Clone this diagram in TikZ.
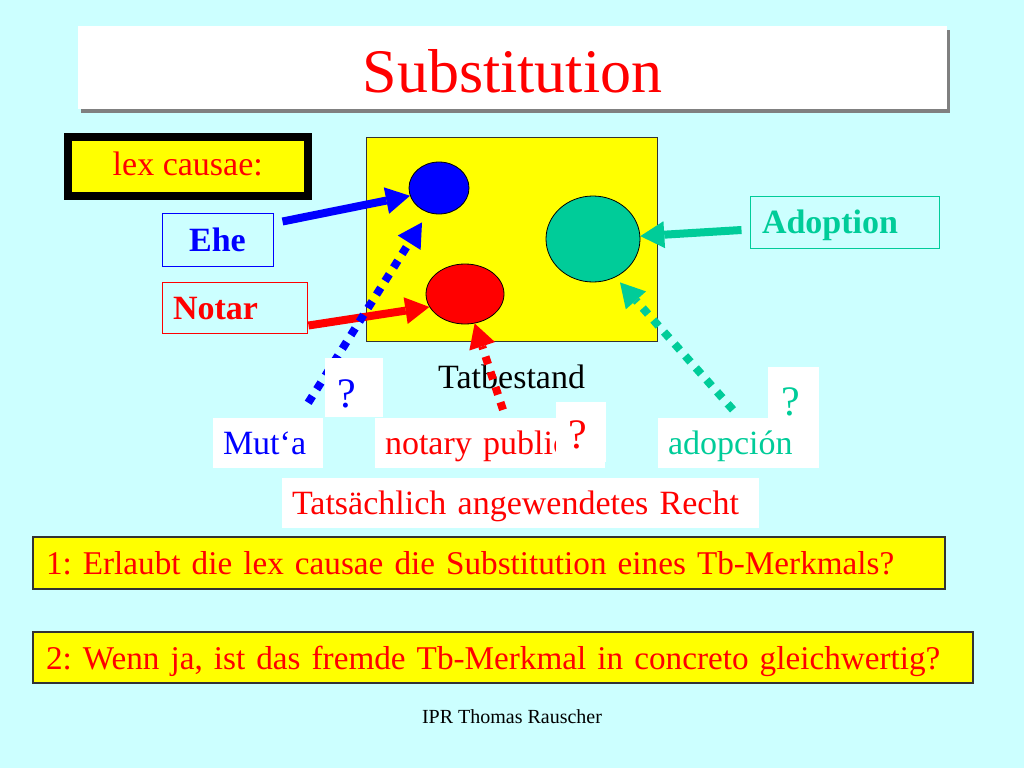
\documentclass[tikz,border=0pt]{standalone}
\usepackage{fontspec}
\setmainfont{Liberation Serif}
\usetikzlibrary{arrows.meta,shapes.geometric,calc,shadows}
\definecolor{bgc}{RGB}{204,255,255}
\definecolor{tealc}{RGB}{0,204,153}
\definecolor{blu}{RGB}{0,0,255}
\definecolor{rd}{RGB}{255,0,0}
\definecolor{yel}{RGB}{255,255,0}
\frenchspacing
\begin{document}
\frenchspacing
\begin{tikzpicture}[x=1pt,y=-1pt,
  txt/.style={font=\fontsize{34}{40}\selectfont, text height=30.6pt, text depth=6.8pt, inner ysep=0pt},
  txtb/.style={txt, font=\fontsize{34}{40}\selectfont\bfseries},
  wbox/.style={txt, rectangle, fill=white, align=left},
  qbox/.style={wbox, font=\fontsize{42}{48}\selectfont},
  lawbox/.style={txtb, rectangle, line width=1pt, align=left},
  qbox1/.style={txt, font=\fontsize{33.2}{40}\selectfont, rectangle, fill=yel, draw=black!80, line width=1.2pt, align=left, inner xsep=13pt},
  blob/.style={ellipse, draw=black, line width=0.8pt, inner sep=0pt},
  solidarr/.style={line width=8pt, -{Triangle[length=24pt,width=27pt,line width=0pt]}},
  dotarr/.style={line width=8pt, dash pattern=on 8pt off 8pt, -{Triangle[length=24pt,width=27pt,line width=0pt]}}
]
\useasboundingbox (0,0) rectangle (1024,768);
\fill[bgc] (0,0) rectangle (1024,768);

% title
\node[rectangle, fill=white, minimum width=869pt, minimum height=83pt, inner sep=0pt,
      font=\fontsize{62}{70}\selectfont, text=rd, text height=49pt, text depth=0pt,
      drop shadow={shadow xshift=3pt, shadow yshift=-4pt, fill=black!50, opacity=1}]
      (title) at (512.5,67.5) {Substitution};

% Tatbestand area
\node[rectangle, draw=black!80, line width=0.8pt, fill=yel, minimum width=290.5pt, minimum height=204pt, inner sep=0pt] (tb) at (511.75,239) {};
\node[blob, fill=blu, minimum width=60pt, minimum height=52pt] (bluec) at (439,188) {};
\node[blob, fill=rd, minimum width=78pt, minimum height=60pt] (redc) at (465,294) {};
\node[blob, fill=tealc, minimum width=94pt, minimum height=86pt] (teal) at (593,239) {};

% lex causae box
\node[txt, rectangle, draw=black, line width=8pt, fill=yel, text=rd, minimum width=239.5pt, minimum height=59.5pt,
      text height=24.3pt, inner xsep=0pt] (lex) at (187.75,166.25) {lex causae:};

% law boxes
\node[lawbox, draw=blu, text=blu, minimum height=53pt, text width=111pt, inner xsep=0pt, align=center] (ehe) at (217.5,239.5) {Ehe};
\node[lawbox, draw=rd, text=rd, minimum height=51pt, text width=123pt, inner xsep=11pt] (notar) at (234.5,307.5) {Notar};
\node[lawbox, draw=tealc, text=tealc, minimum height=52pt, text width=165pt, inner xsep=12pt] (adoption) at (844.5,222) {Adoption};

\node[font=\fontsize{34}{40}\selectfont, anchor=base west, inner sep=0pt] (tbtext) at (438,388) {Tatbestand};

% foreign law labels
\node[wbox, text=blu, minimum height=50pt, text width=90pt, inner xsep=10pt] (muta) at (268,443) {Mut‘a};
\node[wbox, text=rd, minimum height=50pt, text width=210pt, inner xsep=10pt] (notary) at (490,443) {\mbox{notary public}};
\node[wbox, text=tealc, minimum height=50pt, text width=141pt, inner xsep=10pt] (adopcion) at (738.5,443) {adopción};
\node[wbox, text=rd, minimum height=50pt, text width=457pt, inner xsep=10pt] (tats) at (520.5,503) {\mbox{Tatsächlich angewendetes Recht}};

% solid arrows
\draw[solidarr, blu] ($(ehe.north east)+(9,9)$) -- (bluec.195);
\draw[solidarr, rd] ($(notar.south east)+(1,-8)$) -- (redc.200);
\draw[solidarr, tealc] ($(adoption.west)+(-8,8)$) -- (teal);

% dotted arrows
\draw[dotarr, blu] ($(muta.north east)+(-15,-15)$) -- ($(bluec.south)+(-17,8)$);
\draw[dotarr, rd] ($(notary.north)+(13,-8)$) -- (redc);
\draw[dotarr, tealc] ($(adopcion.north)+(-5.5,-8)$) -- ($(teal.south)+(27,0)$);

% question boxes
\node[qbox, text=blu, minimum height=59pt, text width=34pt, inner xsep=12pt, text height=45.8pt] (q1) at (354,387.5) {?};
\node[qbox, text=rd, minimum height=60pt, text width=26pt, inner xsep=12pt, text height=38.8pt] (q2) at (581,432) {?};
\node[qbox, text=tealc, minimum height=58pt, text width=25pt, inner xsep=13pt, text height=44.8pt] (q3) at (793.5,396) {?};

% questions
\node[qbox1, text=rd, minimum height=52pt, text width=886pt] (fr1) at (489,563) {\mbox{1: Erlaubt die lex causae die Substitution eines Tb-Merkmals?}};
\node[qbox1, text=rd, minimum height=51pt, text width=914pt] (fr2) at (503,657.5) {\mbox{2: Wenn ja, ist das fremde Tb-Merkmal in concreto gleichwertig?}};

\node[font=\fontsize{20}{24}\selectfont, anchor=base, inner sep=0pt] (foot) at (512,723) {IPR Thomas Rauscher};
\end{tikzpicture}
\end{document}
